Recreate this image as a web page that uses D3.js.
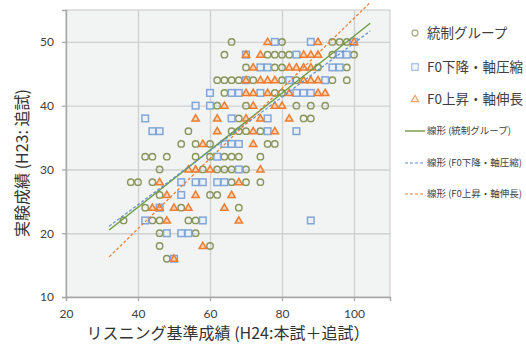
<!DOCTYPE html>
<html>
<head>
<meta charset="utf-8">
<script src="https://cdn.jsdelivr.net/npm/d3@7"></script>
<style>
  html, body { margin: 0; padding: 0; background: #ffffff; }
  svg { display: block; }
</style>
</head>
<body>
<svg id="chart" width="526" height="347"></svg>
<script>
// Axis settings
const xTicks = [20, 40, 60, 80, 100];
const yTicks = [10, 20, 30, 40, 50];
const xDomain = [20, 110];
const yDomain = [10, 55];

// Series names
const seriesNames = ["統制グループ", "F0下降・軸圧縮", "F0上昇・軸伸長"];
const trendNames = ["線形 (統制グループ)", "線形 (F0下降・軸圧縮)", "線形 (F0上昇・軸伸長)"];

// Scores [listening baseline, experiment score]
const controlPoints = [
  [66,50],[80,50],[94,50],[96,50],[98,50],
  [64,48],[76,48],[78,48],[80,48],[82,48],[94,48],[100,48],
  [70,46],[78,46],[80,46],[90,46],[98,46],
  [62,44],[64,44],[66,44],[68,44],[72,44],[80,44],[84,44],[94,44],[98,44],
  [64,42],[78,42],[80,42],
  [62,40],[70,40],[84,40],[88,40],[92,40],
  [68,38],[86,38],[88,38],
  [54,36],[66,36],[68,36],[70,36],[74,36],
  [52,34],[56,34],[60,34],[76,34],[78,34],
  [42,32],[44,32],[48,32],[56,32],[60,32],[64,32],[66,32],[68,32],[74,32],
  [46,30],[58,30],[62,30],[64,30],[66,30],[70,30],
  [38,28],[40,28],[44,28],[66,28],[70,28],[74,28],
  [46,26],[60,26],[62,26],
  [42,24],[52,24],[68,24],
  [36,22],[44,22],[46,22],[54,22],[56,22],
  [46,20],[56,20],
  [46,18],[60,18],
  [48,16]
];
const fallingPoints = [
  [78,50],[88,50],[100,50],
  [70,48],[84,48],[96,48],[98,48],
  [74,46],[76,46],[94,46],[96,46],
  [70,44],[82,44],[92,44],
  [60,42],[66,42],[68,42],[74,42],[84,42],[86,42],[88,42],
  [56,40],[60,40],
  [42,38],[66,38],[76,38],
  [44,36],[46,36],[76,36],[84,36],
  [64,34],[66,34],[68,34],
  [62,32],
  [68,30],
  [52,28],[56,28],[58,28],[62,28],[64,28],
  [52,26],
  [46,24],
  [42,22],[58,22],[88,22],
  [48,20],[52,20],[54,20],
  [50,16]
];
const risingPoints = [
  [76,50],[90,50],[100,50],
  [70,48],[74,48],[86,48],[88,48],[90,48],
  [72,46],[82,46],[84,46],[86,46],[88,46],
  [70,44],[74,44],[76,44],[78,44],[86,44],[88,44],[90,44],
  [70,42],[72,42],[76,42],[82,42],[90,42],[92,42],
  [64,40],[72,40],[78,40],[80,40],
  [56,38],[62,38],[70,38],[74,38],[82,38],
  [62,36],[72,36],[78,36],
  [58,34],[72,34],
  [54,30],[56,30],[60,30],[74,30],
  [46,28],[68,28],
  [48,26],[56,26],[66,26],
  [44,24],[46,24],[50,24],[54,24],[64,24],
  [48,22],[68,22],
  [58,18],
  [50,16]
];

// Linear trend lines: slope, intercept, drawn over this x range
const trendSlopes = [0.447, 0.422, 0.55];
const trendIntercepts = [6.2, 7.6, -1.3];
const trendRange = [32, 104.5];

const svg = d3.select("#chart");
const plot = { left: 66, right: 390, top: 10, bottom: 297 };

const x = d3.scaleLinear().domain(xDomain).range([plot.left, plot.right]);
const y = d3.scaleLinear().domain(yDomain).range([plot.bottom, plot.top]);

const tickFont = "Lato, 'Open Sans', sans-serif";
const cjkFont = "'Noto Sans CJK JP', 'Noto Sans', sans-serif";

// Plot background
svg.append("rect")
  .attr("x", plot.left).attr("y", plot.top)
  .attr("width", plot.right - plot.left).attr("height", plot.bottom - plot.top)
  .attr("fill", "#f2f3f3")
  .attr("stroke", "#cfcfcf").attr("stroke-width", 1.2);

// Gridlines
svg.append("g")
  .attr("transform", `translate(0,${plot.bottom})`)
  .call(d3.axisBottom(x).tickValues(xTicks.slice(1)).tickSize(-(plot.bottom - plot.top)).tickFormat(""))
  .call(g => g.select(".domain").remove())
  .call(g => g.selectAll("line").attr("stroke", "#d0d0d0").attr("stroke-width", 1.4));
svg.append("g")
  .attr("transform", `translate(${plot.left},0)`)
  .call(d3.axisLeft(y).tickValues(yTicks.slice(1)).tickSize(-(plot.right - plot.left)).tickFormat(""))
  .call(g => g.select(".domain").remove())
  .call(g => g.selectAll("line").attr("stroke", "#d0d0d0").attr("stroke-width", 1.4));

// Axes
const xAxis = svg.append("g")
  .attr("transform", `translate(0,${plot.bottom})`)
  .call(d3.axisBottom(x).tickValues(xTicks).tickSize(4).tickPadding(8));
const yAxis = svg.append("g")
  .attr("transform", `translate(${plot.left},0)`)
  .call(d3.axisLeft(y).tickValues(yTicks).tickSize(4).tickPadding(8));
[xAxis, yAxis].forEach(a => {
  a.select(".domain").attr("stroke", "#a6a6a6").attr("stroke-width", 1.4);
  a.selectAll(".tick line").attr("stroke", "#a6a6a6").attr("stroke-width", 1.2);
  a.selectAll("text").attr("fill", "#404040").style("font-family", tickFont).style("font-size", "12px");
});

// Markers
const colors = {
  circle: "#87955a",
  square: "#82a6d6",
  tri: "#ee7d31"
};

svg.append("g").selectAll("circle")
  .data(controlPoints).join("circle")
  .attr("cx", d => x(d[0])).attr("cy", d => y(d[1]))
  .attr("r", 3.2)
  .attr("fill", "none").attr("stroke", colors.circle).attr("stroke-width", 1.4);

svg.append("g").selectAll("rect")
  .data(fallingPoints).join("rect")
  .attr("x", d => x(d[0]) - 3.3).attr("y", d => y(d[1]) - 3.3)
  .attr("width", 6.6).attr("height", 6.6)
  .attr("fill", "#eaf1fa").attr("stroke", colors.square).attr("stroke-width", 1.5);

const tri = d3.symbol().type(d3.symbolTriangle).size(23);
svg.append("g").selectAll("path")
  .data(risingPoints).join("path")
  .attr("d", tri)
  .attr("transform", d => `translate(${x(d[0])},${y(d[1]) + 0.5})`)
  .attr("fill", "#f9d6b8").attr("stroke", colors.tri).attr("stroke-width", 1.5);

// Trend lines
const trendStyles = [
  { color: "#6f9a45", dash: null, width: 1.4 },
  { color: "#5b8fd6", dash: "3,2", width: 1.2 },
  { color: "#ed7d31", dash: "3,2", width: 1.2 }
];
trendSlopes.forEach((m, i) => {
  const b = trendIntercepts[i];
  const st = trendStyles[i];
  svg.append("line")
    .attr("x1", x(trendRange[0])).attr("y1", y(m * trendRange[0] + b))
    .attr("x2", x(trendRange[1])).attr("y2", y(m * trendRange[1] + b))
    .attr("stroke", st.color).attr("stroke-width", st.width)
    .attr("stroke-dasharray", st.dash);
});

// Legend
const legend = svg.append("g");
const legendRows = [33, 67, 99];
const lx = 415, tx = 427;
legend.append("circle").attr("cx", lx).attr("cy", legendRows[0]).attr("r", 3)
  .attr("fill", "none").attr("stroke", "#aab38e").attr("stroke-width", 1.3);
legend.append("rect").attr("x", lx - 3.3).attr("y", legendRows[1] - 3.3).attr("width", 6.6).attr("height", 6.6)
  .attr("fill", "#f3f7fc").attr("stroke", "#a9c3e6").attr("stroke-width", 1.3);
legend.append("path").attr("d", tri).attr("transform", `translate(${lx},${legendRows[2] + 0.5})`)
  .attr("fill", "#fdf0e4").attr("stroke", "#f3a66f").attr("stroke-width", 1.2);
seriesNames.forEach((name, i) => {
  legend.append("text")
    .attr("x", tx).attr("y", legendRows[i]).attr("dy", "0.36em")
    .attr("fill", "#404040")
    .style("font-family", cjkFont).style("font-size", "13.5px")
    .text(name);
});
const trendRows = [131, 163, 194];
trendNames.forEach((name, i) => {
  const st = trendStyles[i];
  legend.append("line")
    .attr("x1", 405).attr("x2", 425).attr("y1", trendRows[i]).attr("y2", trendRows[i])
    .attr("stroke", st.color).attr("stroke-width", st.width).attr("stroke-dasharray", st.dash);
  legend.append("text")
    .attr("x", tx).attr("y", trendRows[i]).attr("dy", "0.36em")
    .attr("fill", "#404040")
    .style("font-family", cjkFont).style("font-size", "9.5px")
    .text(name);
});

// Axis titles
svg.append("text")
  .attr("x", 228).attr("y", 333).attr("dy", "0.36em")
  .attr("text-anchor", "middle").attr("fill", "#333333")
  .style("font-family", cjkFont).style("font-size", "16px")
  .text("リスニング基準成績 (H24:本試＋追試）");
svg.append("text")
  .attr("transform", "translate(22,163) rotate(-90)")
  .attr("dy", "0.36em")
  .attr("text-anchor", "middle").attr("fill", "#333333")
  .style("font-family", cjkFont).style("font-size", "16px")
  .text("実験成績 (H23: 追試)");
</script>
</body>
</html>
